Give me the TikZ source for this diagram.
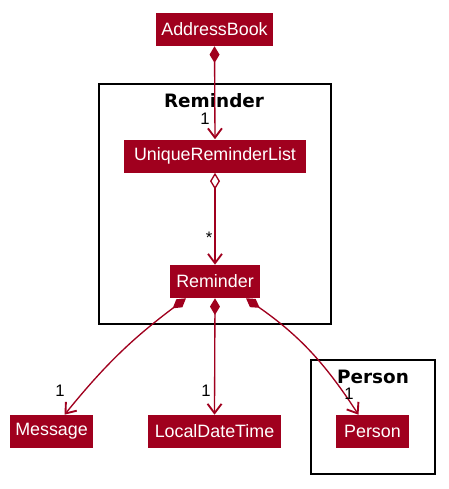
\documentclass[tikz,border=0pt]{standalone}
\usepackage{fontspec}
\setmainfont{Liberation Sans}
\newfontfamily\titlefont{DejaVu Sans}
\usetikzlibrary{arrows.meta,calc}

\begin{document}
\begin{tikzpicture}[x=0.75pt, y=-0.75pt,
    cls/.style={fill=umlRed, text=white, inner sep=0pt, minimum height=24.75pt, font=\fontsize{13.4}{15}\selectfont},
    pkg/.style={draw=black, line width=1.3pt},
    pkgTitle/.style={font=\titlefont\bfseries\fontsize{13.8}{15}\selectfont},
    mult/.style={font=\fontsize{12.5}{14}\selectfont, inner sep=0pt},
    comp/.style={umlRed, line width=1pt, {Diamond[length=12.5pt,width=7.5pt]}-{Straight Barb[length=7pt,width=10.5pt,line width=1.4pt]}},
    aggr/.style={umlRed, line width=1pt, {Diamond[open,length=12.5pt,width=7.5pt,fill=white]}-{Straight Barb[length=7pt,width=10.5pt,line width=1.4pt]}}]
    % Color Palette
    \definecolor{umlRed}{HTML}{A0001E}

    \useasboundingbox (0,0) rectangle (449,489);

    % --- Packages ---
    \draw[pkg] (99,84) rectangle (331,324);
    \node[pkgTitle] (remTitle) at (214,101) {Reminder};
    \draw[pkg] (311,360) rectangle (435,474);
    \node[pkgTitle] (personTitle) at (373,377) {Person};

    % --- Classes ---
    \node[cls, minimum width=87.75pt] (addressBook) at (214.5,29.5) {AddressBook};
    \node[cls, minimum width=136.5pt] (uniqueList) at (215,156) {UniqueReminderList};
    \node[cls, minimum width=67.5pt] (reminder) at (215,281.5) {Reminder};
    \node[cls, minimum width=62.25pt] (message) at (51.5,431.5) {Message};
    \node[cls, minimum width=99.75pt] (dateTime) at (214.5,431.5) {LocalDateTime};
    \node[cls, minimum width=54.75pt] (person) at (372.5,431.5) {Person};

    % Associations
    \draw[comp] (addressBook.south) -- (uniqueList.north);
    \draw[aggr] (uniqueList.south) -- (reminder.north);
    \draw[comp] ($(reminder.south)+(-29,0)$) to[out=217, in=51] ($(message.north)+(13,0)$);
    \draw[comp] (reminder.south) -- (dateTime.north);
    \draw[comp] ($(reminder.south)+(31,0)$) to[out=-35, in=123] ($(person.north)+(-14,0)$);

    % Multiplicities
    \node[mult] (m1) at (205,119) {1};
    \node[mult] (m2) at (209,238) {*};
    \node[mult] (m3) at (60,391) {1};
    \node[mult] (m4) at (206,391) {1};
    \node[mult] (m5) at (349,394) {1};

\end{tikzpicture}
\end{document}
